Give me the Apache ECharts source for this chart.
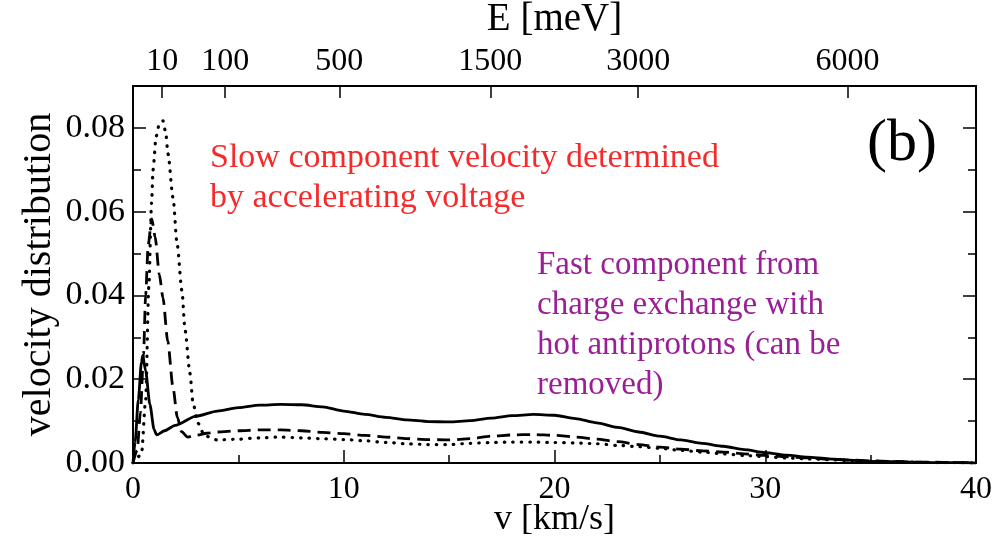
<!DOCTYPE html>
<html>
<head>
<meta charset="utf-8">
<script src="https://cdn.jsdelivr.net/npm/echarts@6/dist/echarts.min.js"></script>
<style>
  html, body { margin: 0; padding: 0; background: #fff; }
  #charts { width: 996px; height: 541px; }
</style>
</head>
<body>
<div id="charts"></div>
<script type="text/javascript">
// solid curve
var solidV = [0, 0.1, 0.25, 0.4, 0.46, 0.6, 0.8, 1.0, 1.12, 1.5, 2, 3, 4, 5, 6, 7, 8, 9, 10, 11, 12, 13, 14, 15, 16, 17, 18, 19, 20, 21, 22, 23, 24, 25, 26, 27, 28, 29, 30, 31, 32, 33, 34, 35, 36, 37, 38, 39, 40];
var solidY = [0, 0.005, 0.015, 0.024, 0.0257, 0.022, 0.014, 0.008, 0.0067, 0.0077, 0.0090, 0.0112, 0.0124, 0.0132, 0.0138, 0.0140, 0.0139, 0.0134, 0.0124, 0.0116, 0.0109, 0.0103, 0.0099, 0.0098, 0.0101, 0.0107, 0.0113, 0.0116, 0.0114, 0.0106, 0.0096, 0.0085, 0.0074, 0.0064, 0.0055, 0.0047, 0.0040, 0.0032, 0.0025, 0.0019, 0.0014, 0.0010, 0.0007, 0.0004, 0.0003, 0.0002, 0.0001, 0.0001, 0.0];
// dashed curve
var dashV = [0, 0.2, 0.35, 0.5, 0.6, 0.72, 0.89, 1.05, 1.25, 1.42, 1.65, 1.9, 2.1, 2.3, 2.6, 3, 3.5, 4, 5, 6, 7, 8, 9, 10, 11, 12, 13, 14, 15, 16, 17, 18, 19, 20, 21, 22, 23, 24, 25, 26, 27, 28, 29, 30, 31, 32, 33, 34, 35, 36, 37, 38, 39, 40];
var dashY = [0, 0.003, 0.012, 0.026, 0.040, 0.052, 0.0583, 0.054, 0.045, 0.0395, 0.029, 0.018, 0.011, 0.0075, 0.0062, 0.0066, 0.0071, 0.0074, 0.0077, 0.0079, 0.0079, 0.0077, 0.0073, 0.0070, 0.0066, 0.0062, 0.0058, 0.0056, 0.0055, 0.0058, 0.0064, 0.0067, 0.0068, 0.0066, 0.0062, 0.0057, 0.0051, 0.0044, 0.0038, 0.0033, 0.0029, 0.0026, 0.0022, 0.0018, 0.0015, 0.0012, 0.0009, 0.0007, 0.0005, 0.0004, 0.0002, 0.0002, 0.0001, 0.0001];
// dotted curve
var dotV = [0, 0.4, 0.6, 0.75, 0.88, 0.95, 1.1, 1.25, 1.42, 1.55, 1.66, 1.9, 2.09, 2.32, 2.47, 2.7, 2.85, 3.08, 3.4, 4, 5, 6, 7, 8, 9, 10, 11, 12, 13, 14, 15, 16, 17, 18, 19, 20, 21, 22, 23, 24, 25, 26, 27, 28, 29, 30, 31, 32, 33, 34, 35, 36, 37, 38, 39, 40];
var dotY = [0, 0.002, 0.015, 0.042, 0.062, 0.070, 0.078, 0.081, 0.0817, 0.079, 0.0738, 0.0633, 0.0524, 0.0412, 0.0317, 0.0214, 0.0143, 0.0095, 0.0065, 0.0055, 0.0057, 0.0060, 0.0062, 0.0060, 0.0058, 0.0056, 0.0053, 0.0049, 0.0046, 0.0044, 0.0044, 0.0047, 0.0049, 0.0050, 0.0050, 0.0049, 0.0048, 0.0046, 0.0042, 0.0039, 0.0035, 0.0030, 0.0026, 0.0022, 0.0018, 0.0015, 0.0012, 0.0010, 0.0008, 0.0006, 0.0004, 0.0003, 0.0002, 0.0001, 0.0001, 0];
// top axis: energy tick labels (meV), E = K v^2 with v in km/s
var topTicksE = [10, 100, 500, 1500, 3000, 6000];
var K = 5.22;

var serif = '"Liberation Serif", "DejaVu Serif", serif';
function pairs(xs, ys) { return xs.map(function (x, i) { return [x, ys[i]]; }); }
var topTickPos = topTicksE.map(function (e) { return Math.sqrt(e / K); });

var dom = document.getElementById("charts");
var myChart = echarts.init(dom);
var axisLine = { show: true, onZero: false, lineStyle: { color: '#000', width: 2 } };
var option = {
    backgroundColor: '#fff',
    animation: false,
    grid: { left: 133, right: 20, top: 86, bottom: 78, outerBoundsMode: 'none', containLabel: false },
    xAxis: [
        {
            type: 'value', min: 0, max: 40, interval: 10, position: 'bottom',
            name: 'v [km/s]', nameLocation: 'middle', nameGap: 39, nameMoveOverlap: false,
            nameTextStyle: { fontFamily: serif, fontSize: 36, color: '#000' },
            axisLine: axisLine,
            axisTick: { inside: true, length: 13, lineStyle: { color: '#000', width: 1.5 } },
            minorTick: { show: true, splitNumber: 2, length: 8, lineStyle: { color: '#000', width: 1.5 } },
            axisLabel: { fontFamily: serif, fontSize: 32, color: '#000', margin: 11 },
            splitLine: { show: false }
        },
        {
            type: 'value', min: 0, max: 40, position: 'top',
            name: 'E [meV]', nameLocation: 'middle', nameGap: 47, nameMoveOverlap: false,
            nameTextStyle: { fontFamily: serif, fontSize: 39, color: '#000' },
            axisLine: axisLine,
            axisTick: { inside: true, length: 12, customValues: topTickPos, lineStyle: { color: '#000', width: 1.5 } },
            axisLabel: {
                fontFamily: serif, fontSize: 32, color: '#000', margin: 8,
                customValues: topTickPos,
                formatter: function (v) { return String(Math.round(K * v * v)); }
            },
            splitLine: { show: false }
        }
    ],
    yAxis: [
        {
            type: 'value', min: 0, max: 0.09, interval: 0.02, position: 'left',
            name: 'velocity distribution', nameLocation: 'middle', nameRotate: 90, nameGap: 74, nameMoveOverlap: false,
            nameTextStyle: { fontFamily: serif, fontSize: 40, color: '#000' },
            axisLine: axisLine,
            axisTick: { inside: true, length: 13, lineStyle: { color: '#000', width: 1.5 } },
            minorTick: { show: true, splitNumber: 2, length: 8, lineStyle: { color: '#000', width: 1.5 } },
            axisLabel: { fontFamily: serif, fontSize: 34, color: '#000', margin: 8, showMaxLabel: false,
                formatter: function (v) { return v.toFixed(2); } },
            splitLine: { show: false }
        },
        {
            type: 'value', min: 0, max: 0.09, interval: 0.02, position: 'right',
            axisLine: axisLine,
            axisTick: { inside: true, length: 13, lineStyle: { color: '#000', width: 1.5 } },
            minorTick: { show: true, splitNumber: 2, length: 8, lineStyle: { color: '#000', width: 1.5 } },
            axisLabel: { show: false },
            splitLine: { show: false }
        }
    ],
    series: [
        {
            name: 'dotted', type: 'line', showSymbol: false, smooth: 0.25, smoothMonotone: 'x',
            data: pairs(dotV, dotY),
            lineStyle: { color: '#000', width: 3.2, type: [0.5, 8], cap: 'round' }
        },
        {
            name: 'dashed', type: 'line', showSymbol: false, smooth: 0.25, smoothMonotone: 'x',
            data: pairs(dashV, dashY),
            lineStyle: { color: '#000', width: 2.8, type: [13, 7] }
        },
        {
            name: 'solid', type: 'line', showSymbol: false, smooth: 0.25, smoothMonotone: 'x',
            data: pairs(solidV, solidY),
            lineStyle: { color: '#000', width: 2.8 }
        }
    ],
    graphic: [
        { type: 'text', left: 210, top: 138, style: { text: 'Slow component velocity determined\nby accelerating voltage',
            font: '34px ' + serif, fill: '#f52a2a', lineHeight: 40 } },
        { type: 'text', left: 537, top: 245, style: { text: 'Fast component from\ncharge exchange with\nhot antiprotons (can be\nremoved)',
            font: '33px ' + serif, fill: '#9a1f96', lineHeight: 40 } },
        { type: 'text', left: 867, top: 114, style: { text: '(b)', font: '60px ' + serif, fill: '#000' } }
    ]
};
myChart.setOption(option, true);
</script>
</body>
</html>
